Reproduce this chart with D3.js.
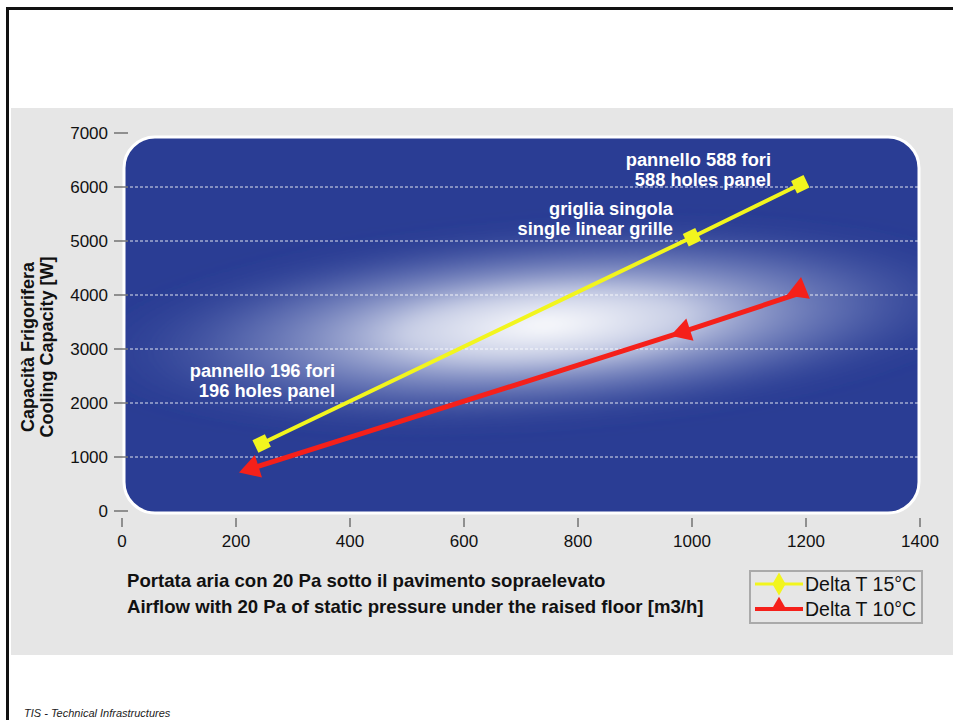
<!DOCTYPE html>
<html>
<head>
<meta charset="utf-8">
<script src="https://cdn.jsdelivr.net/npm/d3@7"></script>
<style>
  html, body { margin: 0; padding: 0; background: #fff; }
  svg { display: block; }
  text { font-family: "Liberation Sans", Arial, Helvetica, sans-serif; }
</style>
</head>
<body>
<svg id="chart" width="953" height="720"></svg>
<script>
// Airflow [m3/h] vs cooling capacity [W]
const xTicks = [0, 200, 400, 600, 800, 1000, 1200, 1400];
const yTicks = [0, 1000, 2000, 3000, 4000, 5000, 6000, 7000];
const gridValues = [1000, 2000, 3000, 4000, 5000, 6000];

const seriesNames = ["Delta T 15°C", "Delta T 10°C"];
const airflow15 = [245, 1000, 1190];
const capacity15 = [1250, 5070, 6050];
const airflow10 = [228, 985, 1188];
const capacity10 = [790, 3320, 4030];

const pointLabels = [
  ["pannello 588 fori", "588 holes panel"],
  ["griglia singola", "single linear grille"],
  ["pannello 196 fori", "196 holes panel"]
];
const xTitle = ["Portata aria con 20 Pa sotto il pavimento sopraelevato",
                "Airflow with 20 Pa of static pressure under the raised floor [m3/h]"];
const yTitle = ["Capacità Frigorifera", "Cooling Capacity [W]"];
const footer = "TIS -  Technical Infrastructures";

const svg = d3.select("#chart");
const x = d3.scaleLinear().domain([0, 1400]).range([122, 920]);
const y = d3.scaleLinear().domain([0, 7000]).range([511, 133]);

// page frame and grey panel
svg.append("rect").attr("x", 0).attr("y", 0).attr("width", 953).attr("height", 720).attr("fill", "#fff");
svg.append("path").attr("d", "M7.5,720 V8.5 H953").attr("fill", "none").attr("stroke", "#111").attr("stroke-width", 3);
svg.append("rect").attr("x", 11).attr("y", 108).attr("width", 942).attr("height", 547).attr("fill", "#e6e6e6");

const defs = svg.append("defs");
const glow = defs.append("radialGradient").attr("id", "glow");
glow.append("stop").attr("offset", "0%").attr("stop-color", "#ffffff").attr("stop-opacity", 1);
glow.append("stop").attr("offset", "30%").attr("stop-color", "#e4e8f4").attr("stop-opacity", 0.85);
glow.append("stop").attr("offset", "65%").attr("stop-color", "#8d9acc").attr("stop-opacity", 0.45);
glow.append("stop").attr("offset", "100%").attr("stop-color", "#2a3d94").attr("stop-opacity", 0);
defs.append("clipPath").attr("id", "plotClip")
  .append("rect").attr("x", 125).attr("y", 138).attr("width", 793).attr("height", 374).attr("rx", 30);
defs.append("filter").attr("id", "soft").attr("x", "-20%").attr("y", "-50%").attr("width", "140%").attr("height", "200%")
  .append("feGaussianBlur").attr("stdDeviation", 8);

// plot background
svg.append("rect").attr("x", 124).attr("y", 137).attr("width", 795).attr("height", 376).attr("rx", 31)
  .attr("fill", "#2a3d94").attr("stroke", "#fff").attr("stroke-width", 3);
const bg = svg.append("g").attr("clip-path", "url(#plotClip)");
bg.append("ellipse").attr("cx", 545).attr("cy", 325).attr("rx", 470).attr("ry", 105)
  .attr("transform", "rotate(-4 545 325)")
  .attr("fill", "url(#glow)").attr("filter", "url(#soft)");

// dashed grid
bg.selectAll("line.grid").data(gridValues).join("line").attr("class", "grid")
  .attr("x1", 125).attr("x2", 918).attr("y1", d => y(d)).attr("y2", d => y(d))
  .attr("stroke", "#fff").attr("stroke-opacity", 0.85).attr("stroke-width", 1).attr("stroke-dasharray", "3,2");

// y axis ticks and labels
const yAxis = svg.append("g");
yAxis.selectAll("line").data(yTicks).join("line")
  .attr("x1", 114).attr("x2", 128).attr("y1", d => y(d)).attr("y2", d => y(d))
  .attr("stroke", "#555").attr("stroke-width", 1.2);
yAxis.selectAll("text").data(yTicks).join("text")
  .attr("x", 108).attr("y", d => y(d)).attr("dy", "0.35em").attr("text-anchor", "end")
  .attr("font-size", 17).attr("fill", "#111").text(d => d);

// x axis ticks and labels
const xAxis = svg.append("g");
xAxis.selectAll("line").data(xTicks).join("line")
  .attr("x1", d => x(d)).attr("x2", d => x(d)).attr("y1", 518).attr("y2", 527)
  .attr("stroke", "#555").attr("stroke-width", 1.2);
xAxis.selectAll("text").data(xTicks).join("text")
  .attr("x", d => x(d)).attr("y", 541).attr("dy", "0.35em").attr("text-anchor", "middle")
  .attr("font-size", 17).attr("fill", "#111").text(d => d);

// axis titles
svg.append("text").attr("transform", "translate(34,347) rotate(-90)")
  .attr("text-anchor", "middle").attr("font-size", 18).attr("font-weight", "bold").attr("fill", "#111")
  .selectAll("tspan").data(yTitle).join("tspan")
  .attr("x", 0).attr("dy", (d, i) => i === 0 ? 0 : 19).text(d => d);
svg.append("g").selectAll("text").data(xTitle).join("text")
  .attr("x", 127).attr("y", (d, i) => 587 + i * 26)
  .attr("font-size", 18.6).attr("font-weight", "bold").attr("fill", "#111").text(d => d);

// series
const line = d3.line().x(d => x(d[0])).y(d => y(d[1]));
const pts15 = airflow15.map((v, i) => [v, capacity15[i]]);
const pts10 = airflow10.map((v, i) => [v, capacity10[i]]);

svg.append("path").attr("d", line(pts15)).attr("fill", "none").attr("stroke", "#f2f51e").attr("stroke-width", 4);
svg.append("path").attr("d", line(pts10)).attr("fill", "none").attr("stroke", "#f5201a").attr("stroke-width", 5);

const angle = pts => Math.atan2(y(pts[pts.length - 1][1]) - y(pts[0][1]), x(pts[pts.length - 1][0]) - x(pts[0][0])) * 180 / Math.PI;
const a15 = angle(pts15), a10 = angle(pts10);

svg.append("g").selectAll("path").data(pts15).join("path")
  .attr("d", d3.symbol(d3.symbolSquare, 190)())
  .attr("transform", d => `translate(${x(d[0])},${y(d[1])}) rotate(${a15})`)
  .attr("fill", "#f2f51e");
// triangles point back along the line, the last one stands upright
const triRot = [a10 - 90, a10 - 90, 8];
svg.append("g").selectAll("path").data(pts10).join("path")
  .attr("d", d3.symbol(d3.symbolTriangle, 240)())
  .attr("transform", (d, i) => `translate(${x(d[0])},${y(d[1]) - (i === 2 ? 3 : 0)}) rotate(${triRot[i]})`)
  .attr("fill", "#f5201a");

// point annotations
const labelAnchor = [[771, 166], [673, 215], [335, 377]];
pointLabels.forEach((lines, k) => {
  svg.append("text").attr("text-anchor", "end").attr("font-size", 18.3).attr("font-weight", "bold").attr("fill", "#fff")
    .selectAll("tspan").data(lines).join("tspan")
    .attr("x", labelAnchor[k][0]).attr("y", (d, i) => labelAnchor[k][1] + i * 19.5).text(d => d);
});

// legend
const lg = svg.append("g");
lg.append("rect").attr("x", 750).attr("y", 571).attr("width", 172).attr("height", 52)
  .attr("fill", "#e6e6e6").attr("stroke", "#aaa").attr("stroke-width", 2);
const legendColors = ["#f2f51e", "#f5201a"];
const legendSymbols = [d3.symbolDiamond, d3.symbolTriangle];
seriesNames.forEach((name, i) => {
  const ly = 584 + i * 25;
  lg.append("line").attr("x1", 755).attr("x2", 803).attr("y1", ly).attr("y2", ly)
    .attr("stroke", legendColors[i]).attr("stroke-width", i === 0 ? 3 : 4);
  lg.append("path").attr("d", d3.symbol(legendSymbols[i], i === 0 ? 150 : 110)())
    .attr("transform", `translate(779,${ly - (i === 0 ? 0 : 3)})`).attr("fill", legendColors[i]);
  lg.append("text").attr("x", 805).attr("y", ly).attr("dy", "0.36em")
    .attr("font-size", 19.5).attr("fill", "#111").text(name);
});

// footer
svg.append("text").attr("x", 24).attr("y", 717).attr("font-size", 11).attr("font-style", "italic")
  .attr("fill", "#222").text(footer);
</script>
</body>
</html>
